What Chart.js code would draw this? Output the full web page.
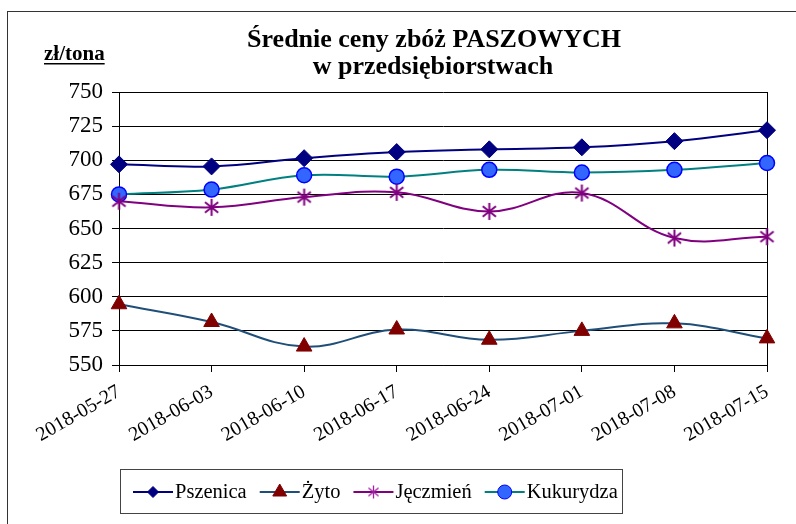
<!DOCTYPE html>
<html><head><meta charset="utf-8">
<script src="https://cdn.jsdelivr.net/npm/chart.js@4.4.1/dist/chart.umd.min.js"></script>
<style>html,body{margin:0;padding:0;background:#fff;}#wrap{width:796px;height:524px;}</style>
</head><body><div id="wrap"><canvas id="c" width="796" height="524"></canvas></div>
<script>
const categories = ['2018-05-27','2018-06-03','2018-06-10','2018-06-17','2018-06-24','2018-07-01','2018-07-08','2018-07-15'];
const seriesNames = ['Pszenica','Żyto','Jęczmień','Kukurydza'];
const pszenica  = [697, 695.5, 701.5, 706, 708, 709.5, 714, 722];
const zyto      = [594.5, 581.5, 563.5, 576, 568.5, 575, 580.5, 569.5];
const jeczmien  = [670, 665.5, 673, 676.5, 662.5, 676, 643, 644];
const kukurydza = [675, 678.5, 689, 688, 693, 691, 693, 698];
const yTicks = [550, 575, 600, 625, 650, 675, 700, 725, 750];
const titleLines = ['Średnie ceny zbóż PASZOWYCH', 'w przedsiębiorstwach'];
const unitLabel = 'zł/tona';

const SERIF = "'Liberation Serif', 'Times New Roman', serif";

function starImage(size, color, lw){
  const c = document.createElement('canvas');
  c.width = size; c.height = size;
  const x = c.getContext('2d');
  x.strokeStyle = color; x.lineWidth = lw; x.lineCap = 'butt';
  const m = size/2, r = size/2 - 1;
  x.beginPath();
  x.moveTo(m, m - r); x.lineTo(m, m + r);
  const d = r*0.78;
  x.moveTo(m - d, m - d*0.8); x.lineTo(m + d, m + d*0.8);
  x.moveTo(m - d, m + d*0.8); x.lineTo(m + d, m - d*0.8);
  x.stroke();
  return c;
}
const starBig = starImage(19, '#800080', 2);
const starSmall = starImage(15, '#a020a0', 1.3);

const datasets = [
  {label: seriesNames[0], data: pszenica, borderColor:'#000080', backgroundColor:'#000080',
   pointStyle:'rectRot', pointRadius:8.5, pointBackgroundColor:'#000080', pointBorderColor:'#000080', legendRadius:5.5},
  {label: seriesNames[1], data: zyto, borderColor:'#1f4e79', backgroundColor:'#800000',
   pointStyle:'triangle', pointRadius:9, pointBackgroundColor:'#800000', pointBorderColor:'#800000', legendRadius:8},
  {label: seriesNames[2], data: jeczmien, borderColor:'#800080', backgroundColor:'#800080',
   pointStyle:starBig, pointRadius:9, pointBackgroundColor:'#800080', pointBorderColor:'#800080', legendStyle:starSmall, legendRadius:7},
  {label: seriesNames[3], data: kukurydza, borderColor:'#008080', backgroundColor:'#3366ff',
   pointStyle:'circle', pointRadius:7.5, pointBackgroundColor:'#3366ff', pointBorderColor:'#0000ff', pointBorderWidth:1.5, legendRadius:7}
].map(d => Object.assign({borderWidth:2, tension:0.4, fill:false, pointBorderWidth:1, pointHoverRadius:d.pointRadius}, d));

const decor = {
  id: 'decor',
  beforeDraw(chart){
    const ctx = chart.ctx;
    ctx.save();
    ctx.fillStyle = '#fff';
    ctx.fillRect(0, 0, chart.width, chart.height);
    ctx.strokeStyle = '#333'; ctx.lineWidth = 1;
    ctx.strokeRect(7.5, 11.5, chart.width + 20, chart.height + 20);
    ctx.restore();
  },
  beforeDatasetsDraw(chart){
    const ctx = chart.ctx, a = chart.chartArea;
    ctx.save();
    ctx.strokeStyle = '#000'; ctx.lineWidth = 1;
    ctx.beginPath();
    ctx.moveTo(Math.round(a.right) + 0.5, a.top);
    ctx.lineTo(Math.round(a.right) + 0.5, a.bottom);
    ctx.stroke();
    ctx.restore();
  },
  afterDraw(chart){
    const ctx = chart.ctx;
    ctx.save();
    // Title
    ctx.fillStyle = '#000';
    ctx.textAlign = 'center'; ctx.textBaseline = 'alphabetic';
    ctx.font = 'bold 26px ' + SERIF;
    ctx.fillText(titleLines[0], 434, 47);
    ctx.fillText(titleLines[1], 433, 74);
    // unit label
    ctx.font = 'bold 21px ' + SERIF;
    ctx.textAlign = 'left';
    const uw = ctx.measureText(unitLabel).width;
    ctx.fillText(unitLabel, 44, 60);
    ctx.fillRect(44, 63, uw, 1.5);
    // Legend
    ctx.fillStyle = '#fff';
    ctx.fillRect(120.5, 469.5, 502, 44);
    ctx.strokeStyle = '#444'; ctx.lineWidth = 1;
    ctx.strokeRect(120.5, 469.5, 502, 44);
    ctx.font = '20.5px ' + SERIF;
    ctx.textBaseline = 'middle';
    let x = 133; const y = 492;
    chart.data.datasets.forEach((ds) => {
      ctx.strokeStyle = ds.borderColor; ctx.lineWidth = 2;
      ctx.beginPath(); ctx.moveTo(x, y); ctx.lineTo(x + 40, y); ctx.stroke();
      ctx.fillStyle = ds.pointBackgroundColor; ctx.strokeStyle = ds.pointBorderColor; ctx.lineWidth = 1;
      Chart.helpers.drawPoint(ctx, {pointStyle: ds.legendStyle || ds.pointStyle, radius: ds.legendRadius, rotation: 0, borderWidth: 1}, x + 20, y);
      ctx.fillStyle = '#000';
      ctx.fillText(ds.label, x + 42, y + 1);
      x += 42 + ctx.measureText(ds.label).width + 13;
    });
    ctx.restore();
  }
};

new Chart(document.getElementById('c'), {
  type: 'line',
  data: { labels: categories, datasets: datasets },
  plugins: [decor],
  options: {
    responsive: false, animation: false, devicePixelRatio: 1,
    layout: { padding: { top: 92, right: 29, bottom: 0, left: 0 } },
    plugins: { legend: { display: false }, title: { display: false }, tooltip: { enabled: false } },
    scales: {
      x: {
        offset: false,
        grid: { display: true, drawOnChartArea: false, drawTicks: true, tickLength: 7, color: '#000' },
        border: { display: true, color: '#000', width: 1 },
        ticks: { minRotation: 30, maxRotation: 30, autoSkip: false, padding: 8, color: '#000',
                 font: { family: SERIF, size: 20 } },
        afterFit(s){ s.height = 159; s.paddingLeft = 0; s.paddingRight = 0; }
      },
      y: {
        min: yTicks[0], max: yTicks[yTicks.length - 1],
        afterBuildTicks(s){ s.ticks = yTicks.map(v => ({value: v})); },
        grid: { color: '#000', lineWidth: 1, tickLength: 7, drawTicks: true },
        border: { display: true, color: '#000', width: 1 },
        ticks: { padding: 9, color: '#000', font: { family: SERIF, size: 23 } },
        afterFit(s){ s.width = 119; s.paddingTop = 0; s.paddingBottom = 0; }
      }
    }
  }
});
</script>
</body></html>
